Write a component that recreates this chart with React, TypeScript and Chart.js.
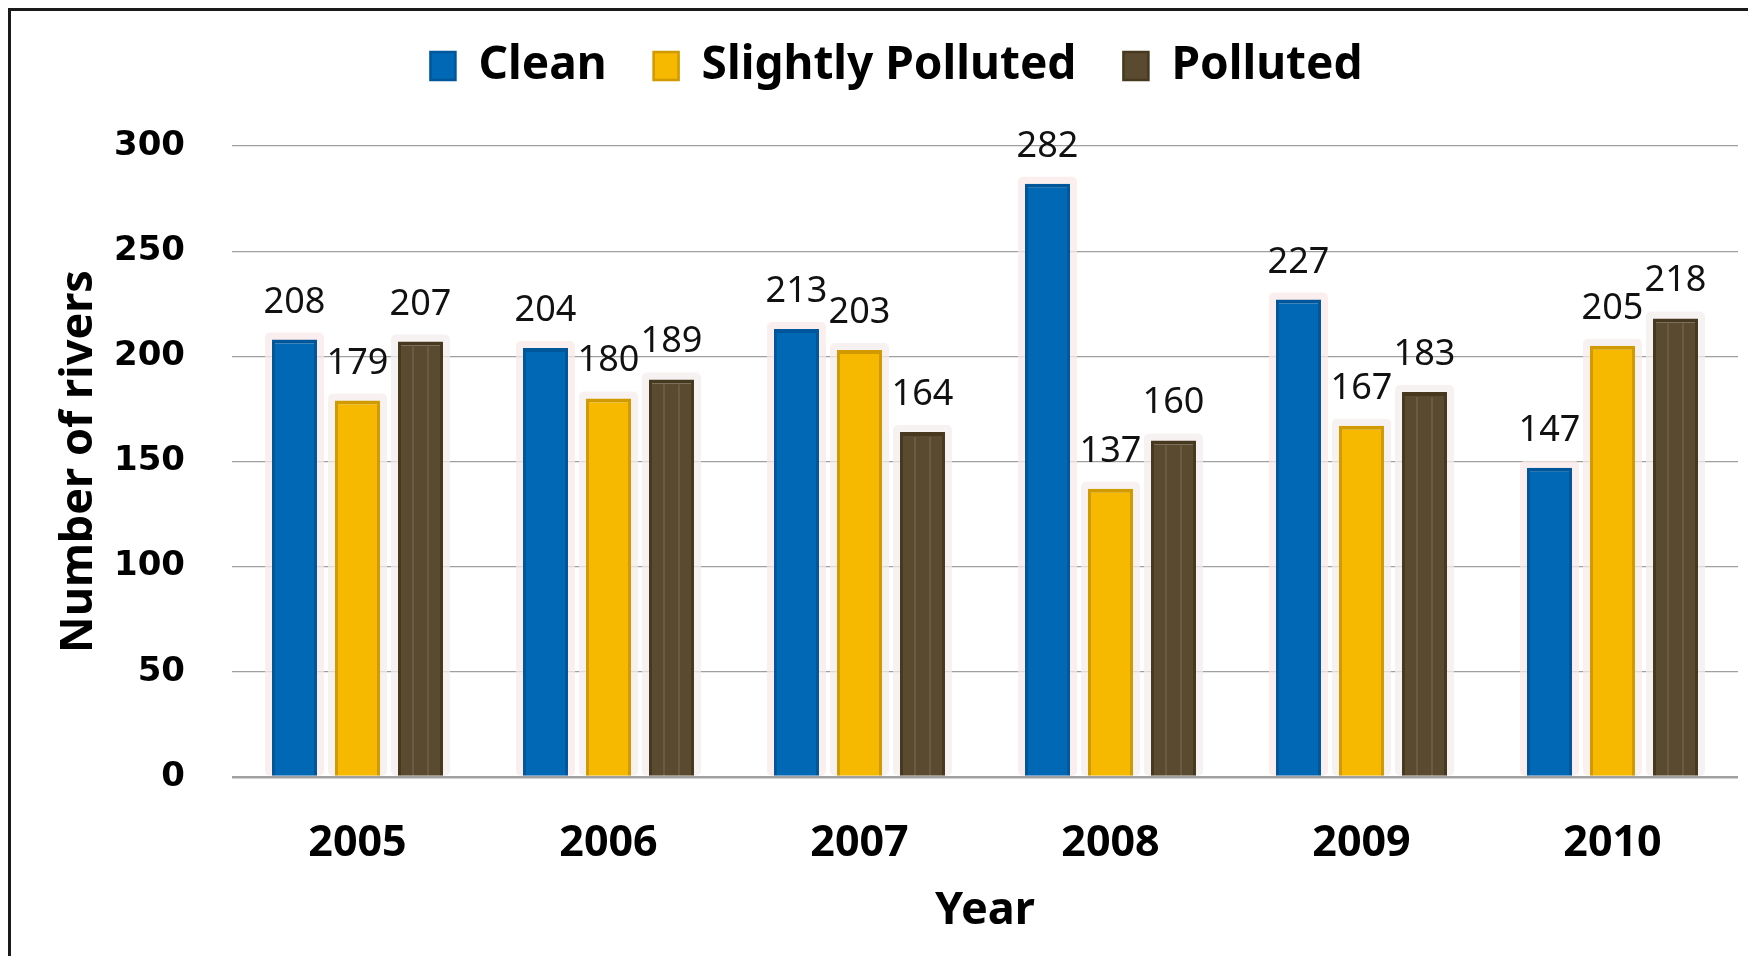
import React, { useEffect, useRef } from 'react';
import { Chart, registerables } from 'chart.js';

Chart.register(...registerables);

const years = ['2005', '2006', '2007', '2008', '2009', '2010'];
const seriesNames = ['Clean', 'Slightly Polluted', 'Polluted'];
const cleanValues = [208, 204, 213, 282, 227, 147];
const slightlyValues = [179, 180, 203, 137, 167, 205];
const pollutedValues = [207, 189, 164, 160, 183, 218];
const yMin = 0;
const yMax = 300;
const yStep = 50;

const fills = ['#0068b4', '#f6b900', '#5a4a2f'];
const borders = ['#00569a', '#d09a00', '#463920'];
const halos = ['rgba(250,232,232,0.75)', 'rgba(244,236,236,0.75)', 'rgba(244,238,238,0.75)'];

const haloPlugin = {
  id: 'barHalo',
  beforeDatasetsDraw(chart: any) {
    const ctx = chart.ctx;
    ctx.save();
    chart.data.datasets.forEach((ds: any, di: number) => {
      const meta = chart.getDatasetMeta(di);
      if (meta.hidden) return;
      meta.data.forEach((el: any) => {
        const { x, y, base, width } = el.getProps(['x', 'y', 'base', 'width'], true);
        ctx.fillStyle = halos[di];
        const pad = 7;
        ctx.beginPath();
        if (ctx.roundRect) {
          ctx.roundRect(x - width / 2 - pad, y - pad, width + pad * 2, base - y + pad, 5);
        } else {
          ctx.rect(x - width / 2 - pad, y - pad, width + pad * 2, base - y + pad);
        }
        ctx.fill();
      });
    });
    ctx.restore();
  },
  afterDatasetsDraw(chart: any) {
    const ctx = chart.ctx;
    ctx.save();
    const meta2 = chart.getDatasetMeta(2);
    meta2.data.forEach((el: any) => {
      const { x, y, base, width } = el.getProps(['x', 'y', 'base', 'width'], true);
      ctx.strokeStyle = 'rgba(255,255,255,0.10)';
      ctx.lineWidth = 2;
      [-width / 6, width / 6].forEach((dx) => {
        ctx.beginPath();
        ctx.moveTo(x + dx, y + 5);
        ctx.lineTo(x + dx, base);
        ctx.stroke();
      });
    });
    ctx.fillStyle = '#111';
    ctx.font = '36px "Noto Sans", sans-serif';
    ctx.textAlign = 'center';
    ctx.textBaseline = 'alphabetic';
    chart.data.datasets.forEach((ds: any, di: number) => {
      const meta = chart.getDatasetMeta(di);
      if (meta.hidden) return;
      meta.data.forEach((el: any, i: number) => {
        const { x, y } = el.getProps(['x', 'y'], true);
        ctx.fillText(String(ds.data[i]), x, y - 27);
      });
    });
    ctx.restore();
  },
};

export default function App() {
  const canvasRef = useRef<HTMLCanvasElement | null>(null);

  useEffect(() => {
    if (!canvasRef.current) return;
    const values = [cleanValues, slightlyValues, pollutedValues];
    const chart = new Chart(canvasRef.current, {
      type: 'bar',
      data: {
        labels: years,
        datasets: seriesNames.map((name, i) => ({
          label: name,
          data: values[i],
          backgroundColor: fills[i],
          borderColor: borders[i],
          borderWidth: { top: 4, left: 3, right: 3, bottom: 0 },
          borderSkipped: 'start',
          categoryPercentage: 0.753,
          barPercentage: 0.714,
        })),
      },
      options: {
        responsive: false,
        animation: false,
        layout: { padding: { top: -15, left: 44, right: 18, bottom: 0 } },
        plugins: {
          legend: {
            position: 'top',
            labels: {
              color: '#000',
              font: { family: '"Noto Sans", sans-serif', size: 46, weight: 'bold' },
              boxWidth: 25,
              boxHeight: 28,
              padding: 47,
            },
          },
          title: {
            display: true,
            text: '',
            weight: 500,
            position: 'top',
            font: { size: 1, lineHeight: 1 },
            padding: { top: 46, bottom: 0 },
          },
          tooltip: { enabled: false },
        },
        scales: {
          x: {
            grid: { display: false },
            border: { display: false },
            ticks: {
              color: '#000',
              font: { family: '"Noto Sans", sans-serif', size: 43, weight: 'bold' },
              padding: 33,
            },
            title: {
              display: true,
              text: 'Year',
              color: '#000',
              font: { family: '"Noto Sans", sans-serif', size: 45, weight: 'bold' },
              padding: { top: 0, bottom: 18 },
            },
            afterFit: (s: any) => {
              s.height = 179;
            },
          },
          y: {
            min: yMin,
            max: yMax,
            grid: {
              color: '#a0a0a0',
              lineWidth: (c: any) => (c.tick && c.tick.value === 0 ? 2.5 : 1.2),
              drawTicks: false,
            },
            border: { display: false },
            ticks: {
              stepSize: yStep,
              color: '#000',
              font: { family: '"DejaVu Sans", sans-serif', size: 34, weight: 'bold' },
              padding: 47,
            },
            title: {
              display: true,
              text: 'Number of rivers',
              color: '#000',
              font: { family: '"Noto Sans", sans-serif', size: 45, weight: 'bold' },
              padding: { top: -3, bottom: 0 },
            },
            afterFit: (s: any) => {
              s.width = 177;
            },
          },
        },
      },
      plugins: [haloPlugin],
    });
    return () => chart.destroy();
  }, []);

  return (
    <div
      style={{
        width: 1748,
        height: 948,
        boxSizing: 'border-box',
        borderTop: '3px solid #1a1a1a',
        borderLeft: '3px solid #1a1a1a',
        background: '#fff',
      }}
    >
      <canvas ref={canvasRef} width={1745} height={945} style={{ display: 'block' }} />
    </div>
  );
}
